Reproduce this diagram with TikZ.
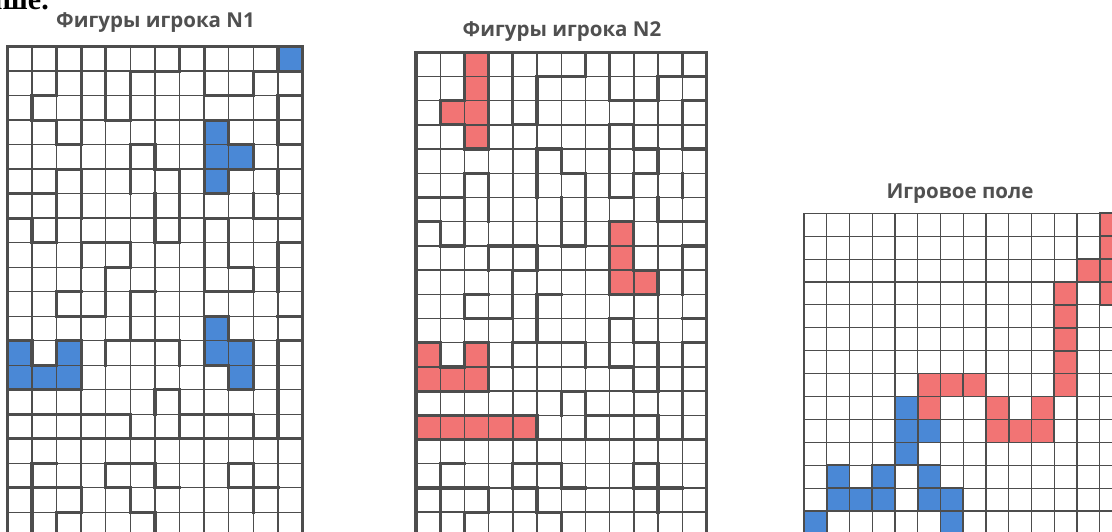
\documentclass[tikz,border=0pt]{standalone}
\usepackage{fontspec}
\newfontfamily\titlefont{Open Sans}
\newfontfamily\seriffont{Liberation Serif}
\definecolor{pblue}{HTML}{4A88D6}
\definecolor{pred}{HTML}{F27474}
\definecolor{gline}{HTML}{4D4D4D}
\definecolor{ttl}{HTML}{505050}
\tikzset{
  gl/.style={draw=gline, line width=1.4pt},
  thk/.style={draw=gline, line width=3.2pt, line cap=rect},
  gl3/.style={draw=gline, line width=1.1pt},
  pce/.style={draw=gline, line width=1.6pt, line cap=rect},
  titlestyle/.style={font=\titlefont\bfseries\fontsize{20.5}{24}\selectfont, text=ttl, inner sep=0pt},
}
\newcommand\vseg[3]{\draw[thk] (#1,#2) -- (#1,#3);}
\newcommand\hseg[3]{\draw[thk] (#2,#1) -- (#3,#1);}
\newcommand\pcell[3]{\fill[#1] (#2,#3) rectangle ++(1,1);}
\newcommand\basegrid{%
  \foreach \i in {0,...,12} \draw[gl] (\i,0) -- (\i,20);
  \foreach \j in {0,...,20} \draw[gl] (0,\j) -- (12,\j);
}
\newcommand\template{%
  % border
  \vseg{0}{0}{20} \vseg{12}{0}{20} \hseg{0}{0}{12}
  % rows 0-6
  \vseg{2}{0}{2} \vseg{2}{3}{4} \hseg{2}{1}{2} \vseg{1}{2}{3} \hseg{3}{1}{2} \vseg{3}{0}{4} \hseg{4}{2}{3}
  \vseg{4}{0}{3} \hseg{3}{4}{5} \vseg{5}{1}{3} \hseg{1}{5}{7} \vseg{7}{0}{1}
  \vseg{8}{0}{2} \hseg{2}{8}{10} \vseg{10}{1}{2} \hseg{1}{10}{11} \vseg{11}{0}{1}
  \hseg{1}{11}{12}
  \hseg{2}{11}{12} \vseg{11}{2}{4} \hseg{4}{11}{12}
  \vseg{8}{3}{6} \hseg{3}{8}{9} \vseg{9}{3}{4} \hseg{4}{9}{10} \vseg{10}{4}{5} \hseg{5}{9}{10} \vseg{9}{5}{6} \hseg{6}{8}{9}
  \hseg{4}{5}{6} \vseg{5}{4}{6} \vseg{6}{4}{5} \hseg{5}{6}{7} \vseg{7}{5}{6}
  \hseg{5}{2}{3} \vseg{2}{5}{7} \vseg{3}{5}{7}
  \vseg{11}{5}{6}
  \hseg{6}{0}{2}
  % rows 6-12
  \hseg{7}{0}{1} \vseg{1}{7}{8} \vseg{2}{7}{8} \hseg{8}{1}{2}
  \vseg{6}{6}{8} \vseg{7}{6}{8} \hseg{8}{6}{7}
  \vseg{10}{6}{7} \hseg{7}{10}{12}
  \hseg{8}{3}{5} \vseg{3}{8}{9} \vseg{5}{8}{9}
  \vseg{8}{7}{10} \hseg{7}{8}{9} \vseg{9}{7}{9} \hseg{9}{9}{10} \vseg{10}{9}{10} \hseg{10}{8}{10}
  \vseg{11}{8}{10} \hseg{8}{11}{12}
  \vseg{4}{9}{11} \hseg{9}{4}{5}
  \hseg{10}{2}{3} \vseg{2}{10}{11} \hseg{11}{2}{4}
  \vseg{5}{10}{12} \hseg{10}{5}{6}
  \hseg{11}{11}{12}
  \hseg{11}{8}{9} \vseg{8}{11}{13} \vseg{9}{11}{12} \hseg{12}{9}{10} \vseg{10}{12}{14} \hseg{14}{9}{10} \vseg{9}{13}{14} \hseg{13}{8}{9}
  \hseg{12}{0}{1} \vseg{1}{12}{13} \hseg{13}{1}{2} \vseg{2}{12}{13} \hseg{12}{2}{3} \vseg{3}{12}{14} \hseg{14}{0}{3}
  \hseg{12}{4}{7} \vseg{4}{12}{13} \vseg{7}{12}{13}
  \vseg{11}{12}{14} \hseg{12}{11}{12}
  % rows 13-20
  \vseg{6}{14}{15} \hseg{14}{6}{7} \vseg{7}{14}{16}
  \hseg{15}{0}{5} \hseg{15}{7}{10}
  \vseg{11}{14}{16}
  \vseg{5}{15}{16}
  \hseg{16}{0}{12}
  \vseg{10}{15}{16}
  \hseg{17}{1}{2} \hseg{17}{4}{6} \hseg{17}{9}{10}
  \vseg{1}{17}{20} \vseg{4}{17}{18} \vseg{6}{17}{18} \vseg{9}{17}{18} \vseg{10}{17}{19}
  \hseg{18}{0}{3} \hseg{18}{4}{5} \hseg{18}{6}{7} \hseg{18}{9}{11}
  \vseg{3}{18}{19} \vseg{5}{18}{19}
  \hseg{19}{2}{3} \hseg{19}{5}{6}
  \vseg{2}{19}{20} \vseg{6}{19}{20}
}
\begin{document}
\begin{tikzpicture}[x=1pt, y=-1pt]
  \useasboundingbox (0,0) rectangle (1112,532);
  \fill[white] (0,0) rectangle (1112,532);
  \clip (0,0) rectangle (1112,532);

  % fragment of text at the top left (cut by the edge, as in the source)
  \node[anchor=base east, font=\seriffont\bfseries\fontsize{30}{32}\selectfont, inner sep=0pt] (topfrag) at (49,10) {выше.};

  % titles
  \node[titlestyle] (t1) at (155.5,23) {Фигуры игрока N1};
  \node[titlestyle] (t2) at (562,32) {Фигуры игрока N2};
  \node[titlestyle] (t3) at (960,194) {Игровое поле};

  % grid 1 : figures of player 1
  \begin{scope}[shift={(7.3pt,-46.7pt)}, x=24.6pt, y=-24.5pt]
    \pcell{pblue}{11}{0}
    \pcell{pblue}{8}{3} \pcell{pblue}{8}{4} \pcell{pblue}{9}{4} \pcell{pblue}{8}{5}
    \pcell{pblue}{8}{11} \pcell{pblue}{8}{12} \pcell{pblue}{9}{12} \pcell{pblue}{9}{13}
    \pcell{pblue}{0}{12} \pcell{pblue}{2}{12} \pcell{pblue}{0}{13} \pcell{pblue}{1}{13} \pcell{pblue}{2}{13}
    \basegrid
    \template
  \end{scope}

  % grid 2 : figures of player 2
  \begin{scope}[shift={(416pt,-52.3pt)}, x=24.2pt, y=-24.2pt]
    \pcell{pred}{2}{0} \pcell{pred}{2}{1} \pcell{pred}{1}{2} \pcell{pred}{2}{2} \pcell{pred}{2}{3}
    \pcell{pred}{8}{7} \pcell{pred}{8}{8} \pcell{pred}{8}{9} \pcell{pred}{9}{9}
    \pcell{pred}{0}{12} \pcell{pred}{2}{12} \pcell{pred}{0}{13} \pcell{pred}{1}{13} \pcell{pred}{2}{13}
    \foreach \c in {0,...,4} {\pcell{pred}{\c}{15}}
    \basegrid
    \template
  \end{scope}

  % grid 3 : playing field
  \begin{scope}[shift={(804pt,-213.3pt)}, x=22.75pt, y=-22.9pt]
    \foreach \c/\r in {0/13,1/11,3/11,1/12,2/12,3/12,4/8,4/9,5/9,4/10,5/11,5/12,6/12,6/13}
      {\pcell{pblue}{\c}{\r}}
    \foreach \c/\r in {13/0,13/1,12/2,13/2,13/3,11/3,11/4,11/5,11/6,11/7,5/7,6/7,7/7,5/8,8/8,10/8,8/9,9/9,10/9}
      {\pcell{pred}{\c}{\r}}
    \foreach \i in {0,...,14} \draw[gl3] (\i,0) -- (\i,14);
    \foreach \j in {0,...,14} \draw[gl3] (0,\j) -- (14,\j);
    \foreach \c/\r in {0/13,1/11,3/11,1/12,2/12,3/12,4/8,4/9,5/9,4/10,5/11,5/12,6/12,6/13,13/0,13/1,12/2,13/2,13/3,11/3,11/4,11/5,11/6,11/7,5/7,6/7,7/7,5/8,8/8,10/8,8/9,9/9,10/9}
      {\draw[pce] (\c,\r) rectangle ++(1,1);}
  \end{scope}
\end{tikzpicture}
\end{document}
